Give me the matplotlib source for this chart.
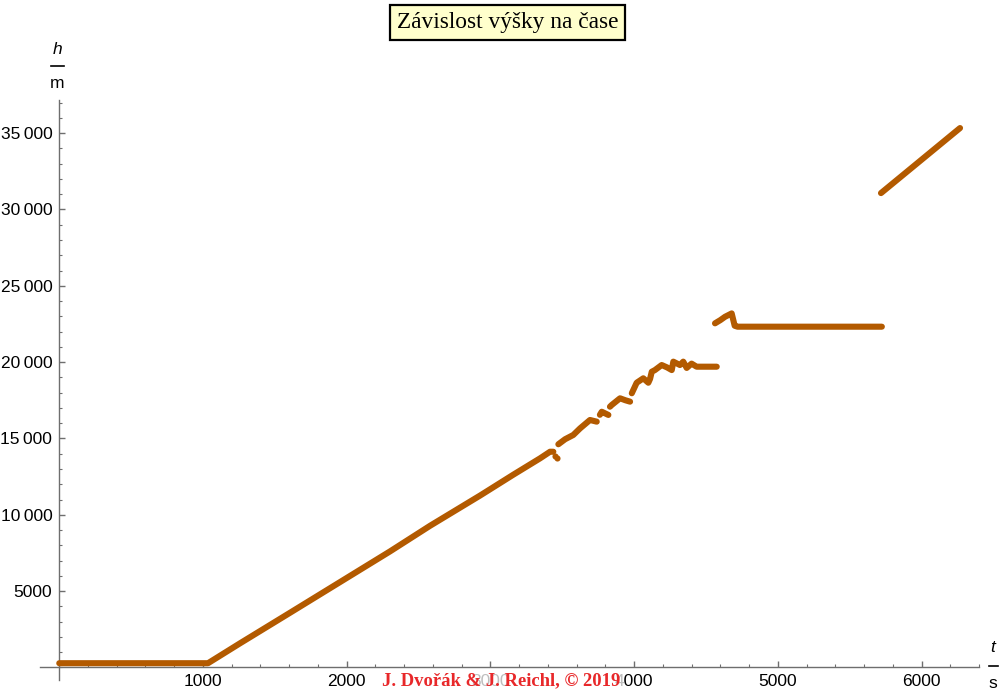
import matplotlib
matplotlib.use('Agg')
import matplotlib.pyplot as plt
from matplotlib.lines import Line2D
from matplotlib.ticker import FixedLocator, MultipleLocator, FixedFormatter

# ---- data ----
ascent_t = [0, 1035, 1258, 1605, 1953, 2301, 2580, 2928, 3160, 3346, 3415, 3438]
ascent_h = [280, 280, 1585, 3580, 5590, 7600, 9280, 11260, 12630, 13700, 14130, 14130]
dip_t = [3450, 3461]
dip_h = [13850, 13700]
seg_c_t = [3473, 3520, 3577, 3624, 3693, 3740]
seg_c_h = [14620, 14950, 15230, 15660, 16210, 16100]
seg_d_t = [3762, 3775, 3821]
seg_d_h = [16550, 16750, 16540]
seg_e_t = [3832, 3844, 3902, 3940, 3972]
seg_e_h = [17080, 17190, 17630, 17500, 17410]
seg_f_t = [3984, 4018, 4064, 4099, 4111, 4123, 4145, 4192, 4230, 4262,
           4273, 4319, 4342, 4366, 4400, 4435, 4575]
seg_f_h = [17960, 18650, 18940, 18650, 18900, 19370, 19480, 19810, 19650, 19480,
           20030, 19810, 20030, 19620, 19900, 19700, 19700]
seg_i_t = [4563, 4600, 4633, 4679, 4700, 4720, 5724]
seg_i_h = [22540, 22750, 22970, 23190, 22380, 22320, 22320]
seg_j_t = [5718, 6268]
seg_j_h = [31070, 35330]

x_ticks = [1000, 2000, 3000, 4000, 5000, 6000]
x_labels = ['1000', '2000', '3000', '4000', '5000', '6000']
y_ticks = [5000, 10000, 15000, 20000, 25000, 30000, 35000]
y_labels = ['5000', '10\u2009000', '15\u2009000', '20\u2009000', '25\u2009000', '30\u2009000', '35\u2009000']

title_text = 'Závislost výšky na čase'
watermark = 'J. Dvořák & J. Reichl, © 2019'

# ---- style ----
W, H = 999, 692
DPI = 100
pt_color = '#b35a00'
axis_color = '#6e6e6e'
sans = ['Liberation Sans', 'DejaVu Sans']
serif = ['Liberation Serif', 'DejaVu Serif']

fig = plt.figure(figsize=(W / DPI, H / DPI), dpi=DPI)
fig.patch.set_facecolor('white')

left_px, right_px = 40.0, 979.0
bottom_px, top_px = 679.7, 99.5
ax = fig.add_axes([left_px / W, (H - bottom_px) / H,
                   (right_px - left_px) / W, (bottom_px - top_px) / H])
ax.set_xlim(-134, 6400)
ax.set_ylim(-800, 37200)
ax.patch.set_alpha(0)

for s in ['top', 'right']:
    ax.spines[s].set_visible(False)
ax.spines['left'].set_position(('data', 0))
ax.spines['bottom'].set_position(('data', 0))
for s in ['left', 'bottom']:
    ax.spines[s].set_color(axis_color)
    ax.spines[s].set_linewidth(1.0)

ax.xaxis.set_major_locator(FixedLocator(x_ticks))
ax.xaxis.set_major_formatter(FixedFormatter(x_labels))
ax.xaxis.set_minor_locator(MultipleLocator(200))
ax.yaxis.set_major_locator(FixedLocator(y_ticks))
ax.yaxis.set_major_formatter(FixedFormatter(y_labels))
ax.yaxis.set_minor_locator(MultipleLocator(1000))

ax.tick_params(which='major', direction='in', length=4, width=1.0, color=axis_color,
               labelsize=12.5, labelcolor='black', pad=5)
ax.tick_params(which='minor', direction='in', length=2.5, width=0.8, color=axis_color)
for lab in ax.get_xticklabels() + ax.get_yticklabels():
    lab.set_family(sans)

segments = [(ascent_t, ascent_h), (seg_c_t, seg_c_h), (seg_d_t, seg_d_h),
            (seg_e_t, seg_e_h), (seg_f_t, seg_f_h),
            (seg_i_t, seg_i_h), (seg_j_t, seg_j_h)]
for st, sh in segments:
    ax.plot(st, sh, color=pt_color, lw=4.4, solid_capstyle='round',
            solid_joinstyle='round', zorder=3, clip_on=False)
ax.plot(dip_t, dip_h, 'o', color=pt_color, ms=4.4, mew=0, zorder=3)

# ---- axis labels as fractions ----
def fx(px):
    return px / W

def fy(py):
    return 1 - py / H

fig.text(fx(57.5), fy(49), 'h', ha='center', va='center', fontsize=12.5,
         style='italic', family=sans)
fig.add_artist(Line2D([fx(50.7), fx(64)], [fy(65.7), fy(65.7)], color='black', lw=1.2))
fig.text(fx(57.5), fy(84), 'm', ha='center', va='center', fontsize=12.5, family=sans)

fig.text(fx(993), fy(648), 't', ha='center', va='center', fontsize=12.5,
         style='italic', family=sans)
fig.add_artist(Line2D([fx(988.5), fx(997.5)], [fy(665.5), fy(665.5)], color='black', lw=1.2))
fig.text(fx(993), fy(683), 's', ha='center', va='center', fontsize=12.5, family=sans)

# ---- title box ----
fig.text(fx(507.5), fy(22.5), title_text, ha='center', va='center', fontsize=16.8,
         family=serif, color='black',
         bbox=dict(boxstyle='square,pad=0.3', facecolor='#ffffcc',
                   edgecolor='black', linewidth=1.6))

# ---- watermark ----
fig.text(fx(501), fy(681), watermark, ha='center', va='center', fontsize=13.4,
         family=serif, weight='bold', color='#e8282a', zorder=5,
         bbox=dict(boxstyle='square,pad=0.2', facecolor='white',
                   edgecolor='none', alpha=0.75))

fig.savefig('out.png', dpi=DPI)
